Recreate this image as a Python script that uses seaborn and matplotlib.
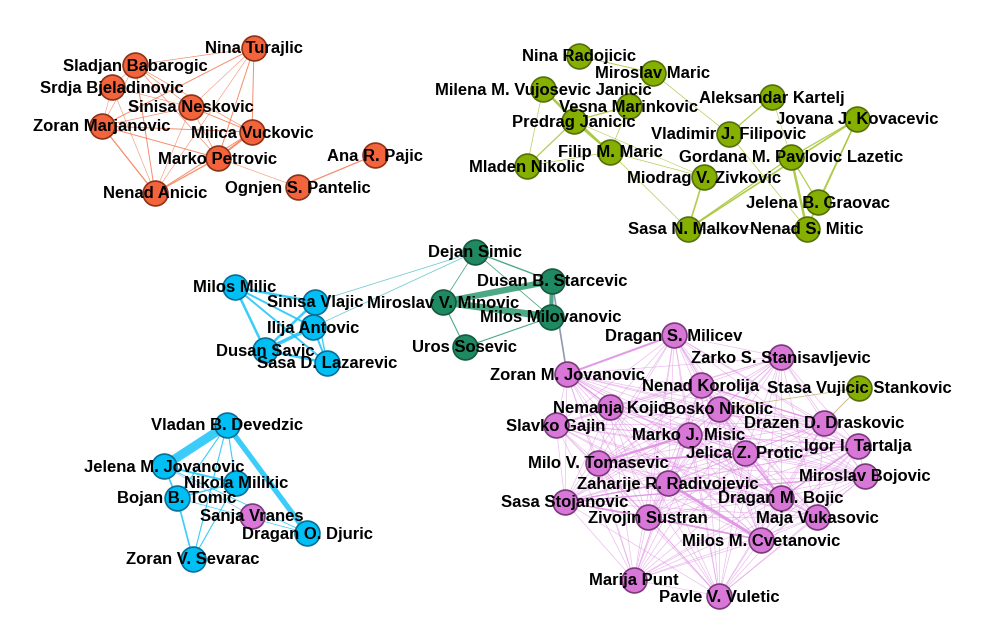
import itertools
import matplotlib
matplotlib.use('Agg')
import matplotlib.pyplot as plt
import seaborn as sns
import pandas as pd

sns.set_theme(style="white")
plt.rcParams['font.family'] = ['Liberation Sans', 'DejaVu Sans']

# --- nodes (positions, pixel coords) ---
orange_names = ["Nina Turajlic", "Sladjan Babarogic", "Srdja Bjeladinovic", "Sinisa Neskovic",
                "Zoran Marjanovic", "Milica Vuckovic", "Marko Petrovic", "Nenad Anicic",
                "Ognjen S. Pantelic", "Ana R. Pajic"]
orange_x = [254, 135, 112, 191, 102, 252, 218, 155, 298, 375]
orange_y = [48, 65, 87, 107, 126, 132, 158, 193, 187, 155]

lime_names = ["Nina Radojicic", "Miroslav Maric", "Milena M. Vujosevic Janicic", "Vesna Marinkovic",
              "Predrag Janicic", "Aleksandar Kartelj", "Jovana J. Kovacevic", "Vladimir J. Filipovic",
              "Filip M. Maric", "Mladen Nikolic", "Gordana M. Pavlovic Lazetic", "Miodrag V. Zivkovic",
              "Jelena B. Graovac", "Sasa N. Malkov", "Nenad S. Mitic", "Stasa Vujicic Stankovic"]
lime_x = [579, 653, 543, 629, 574, 772, 857, 729, 610, 527, 791, 704, 818, 688, 807, 859]
lime_y = [56, 73, 89, 106, 121, 97, 119, 134, 152, 166, 157, 177, 202, 229, 229, 388]

teal_names = ["Dejan Simic", "Dusan B. Starcevic", "Miroslav V. Minovic", "Milos Milovanovic",
              "Uros Sosevic"]
teal_x = [475, 552, 443, 551, 465]
teal_y = [252, 281, 302, 317, 347]

cyan_names = ["Milos Milic", "Sinisa Vlajic", "Ilija Antovic", "Dusan Savic", "Sasa D. Lazarevic",
              "Vladan B. Devedzic", "Jelena M. Jovanovic", "Nikola Milikic", "Bojan B. Tomic",
              "Dragan O. Djuric", "Zoran V. Sevarac"]
cyan_x = [235, 315, 313, 265, 327, 227, 164, 236, 177, 307, 193]
cyan_y = [287, 302, 327, 350, 363, 425, 466, 483, 498, 533, 559]

purple_names = ["Dragan S. Milicev", "Zarko S. Stanisavljevic", "Zoran M. Jovanovic", "Nenad Korolija",
                "Nemanja Kojic", "Bosko Nikolic", "Slavko Gajin", "Drazen D. Draskovic",
                "Marko J. Misic", "Igor I. Tartalja", "Jelica Z. Protic", "Milo V. Tomasevic",
                "Miroslav Bojovic", "Zaharije R. Radivojevic", "Sasa Stojanovic", "Dragan M. Bojic",
                "Zivojin Sustran", "Maja Vukasovic", "Milos M. Cvetanovic", "Marija Punt",
                "Pavle V. Vuletic", "Sanja Vranes"]
purple_x = [674, 781, 567, 701, 610, 719, 556, 824, 689, 858, 745, 598, 865, 668, 565, 781,
            648, 817, 761, 634, 719, 252]
purple_y = [335, 357, 374, 385, 407, 409, 425, 423, 435, 446, 453, 463, 476, 483, 502, 498,
            517, 517, 540, 580, 596, 516]

# --- links (a, b, weight) ---
orange_links = [
    ("Nina Turajlic", "Sladjan Babarogic", 0.5), ("Nina Turajlic", "Zoran Marjanovic", 0.7),
    ("Nina Turajlic", "Sinisa Neskovic", 0.4), ("Nina Turajlic", "Milica Vuckovic", 0.7),
    ("Nina Turajlic", "Marko Petrovic", 0.7), ("Nina Turajlic", "Nenad Anicic", 0.4),
    ("Sladjan Babarogic", "Srdja Bjeladinovic", 0.4), ("Sladjan Babarogic", "Sinisa Neskovic", 0.5),
    ("Sladjan Babarogic", "Milica Vuckovic", 0.5), ("Sladjan Babarogic", "Marko Petrovic", 0.5),
    ("Sladjan Babarogic", "Nenad Anicic", 0.7), ("Sladjan Babarogic", "Zoran Marjanovic", 0.4),
    ("Srdja Bjeladinovic", "Zoran Marjanovic", 0.4), ("Srdja Bjeladinovic", "Nenad Anicic", 0.4),
    ("Srdja Bjeladinovic", "Sinisa Neskovic", 0.4),
    ("Zoran Marjanovic", "Sinisa Neskovic", 0.5), ("Zoran Marjanovic", "Milica Vuckovic", 0.7),
    ("Zoran Marjanovic", "Marko Petrovic", 0.7), ("Zoran Marjanovic", "Nenad Anicic", 0.9),
    ("Sinisa Neskovic", "Milica Vuckovic", 0.7), ("Sinisa Neskovic", "Marko Petrovic", 0.5),
    ("Sinisa Neskovic", "Nenad Anicic", 0.4),
    ("Milica Vuckovic", "Marko Petrovic", 1.4), ("Milica Vuckovic", "Nenad Anicic", 0.7),
    ("Marko Petrovic", "Nenad Anicic", 0.9), ("Marko Petrovic", "Ognjen S. Pantelic", 0.4),
    ("Ognjen S. Pantelic", "Ana R. Pajic", 0.9),
]

lime_links = [
    ("Nina Radojicic", "Miroslav Maric", 0.7), ("Milena M. Vujosevic Janicic", "Predrag Janicic", 1.2),
    ("Milena M. Vujosevic Janicic", "Mladen Nikolic", 0.5), ("Milena M. Vujosevic Janicic", "Filip M. Maric", 1.2),
    ("Predrag Janicic", "Vesna Marinkovic", 0.9), ("Predrag Janicic", "Mladen Nikolic", 0.9),
    ("Predrag Janicic", "Filip M. Maric", 1.6), ("Predrag Janicic", "Miodrag V. Zivkovic", 0.4),
    ("Vesna Marinkovic", "Filip M. Maric", 0.5), ("Vesna Marinkovic", "Miroslav Maric", 0.4),
    ("Mladen Nikolic", "Filip M. Maric", 0.5),
    ("Miroslav Maric", "Vladimir J. Filipovic", 0.5), ("Filip M. Maric", "Miodrag V. Zivkovic", 0.5),
    ("Filip M. Maric", "Sasa N. Malkov", 0.5),
    ("Aleksandar Kartelj", "Vladimir J. Filipovic", 0.9), ("Aleksandar Kartelj", "Gordana M. Pavlovic Lazetic", 0.4),
    ("Vladimir J. Filipovic", "Nenad S. Mitic", 0.5),
    ("Gordana M. Pavlovic Lazetic", "Jovana J. Kovacevic", 0.9), ("Gordana M. Pavlovic Lazetic", "Jelena B. Graovac", 0.9),
    ("Gordana M. Pavlovic Lazetic", "Nenad S. Mitic", 1.8), ("Gordana M. Pavlovic Lazetic", "Sasa N. Malkov", 0.9),
    ("Jovana J. Kovacevic", "Sasa N. Malkov", 1.2), ("Jovana J. Kovacevic", "Jelena B. Graovac", 1.0),
    ("Jovana J. Kovacevic", "Nenad S. Mitic", 0.7),
    ("Miodrag V. Zivkovic", "Sasa N. Malkov", 1.2), ("Sasa N. Malkov", "Nenad S. Mitic", 0.7),
    ("Jelena B. Graovac", "Nenad S. Mitic", 0.9),
]

teal_links = [
    ("Dejan Simic", "Dusan B. Starcevic", 1.0), ("Dejan Simic", "Miroslav V. Minovic", 0.6),
    ("Dejan Simic", "Milos Milovanovic", 0.6), ("Miroslav V. Minovic", "Dusan B. Starcevic", 4.5),
    ("Miroslav V. Minovic", "Milos Milovanovic", 5.0), ("Dusan B. Starcevic", "Milos Milovanovic", 3.0),
    ("Miroslav V. Minovic", "Uros Sosevic", 0.8), ("Uros Sosevic", "Milos Milovanovic", 0.8),
]

cyan_links = [
    ("Milos Milic", "Sinisa Vlajic", 1.8), ("Milos Milic", "Ilija Antovic", 1.4),
    ("Milos Milic", "Dusan Savic", 1.8), ("Milos Milic", "Sasa D. Lazarevic", 1.4),
    ("Sinisa Vlajic", "Dusan Savic", 1.8), ("Sinisa Vlajic", "Ilija Antovic", 1.4),
    ("Sinisa Vlajic", "Sasa D. Lazarevic", 1.0), ("Ilija Antovic", "Dusan Savic", 2.6),
    ("Ilija Antovic", "Sasa D. Lazarevic", 1.4), ("Dusan Savic", "Sasa D. Lazarevic", 1.8),
    ("Vladan B. Devedzic", "Jelena M. Jovanovic", 6.5), ("Vladan B. Devedzic", "Dragan O. Djuric", 3.8),
    ("Vladan B. Devedzic", "Nikola Milikic", 0.8), ("Vladan B. Devedzic", "Bojan B. Tomic", 0.8),
    ("Vladan B. Devedzic", "Zoran V. Sevarac", 0.8),
    ("Jelena M. Jovanovic", "Nikola Milikic", 1.4), ("Jelena M. Jovanovic", "Bojan B. Tomic", 1.2),
    ("Jelena M. Jovanovic", "Dragan O. Djuric", 0.6), ("Bojan B. Tomic", "Nikola Milikic", 1.0),
    ("Bojan B. Tomic", "Zoran V. Sevarac", 1.2), ("Nikola Milikic", "Zoran V. Sevarac", 0.8),
    ("Bojan B. Tomic", "Dragan O. Djuric", 0.5),
]

# heavier purple links; the rest of the group is meshed with thin lines
purple_strong = [
    ("Dragan S. Milicev", "Zoran M. Jovanovic", 1.5), ("Milo V. Tomasevic", "Marko J. Misic", 1.8),
    ("Zaharije R. Radivojevic", "Milos M. Cvetanovic", 2.2), ("Milo V. Tomasevic", "Jelica Z. Protic", 1.2),
    ("Jelica Z. Protic", "Dragan M. Bojic", 1.2), ("Dragan M. Bojic", "Igor I. Tartalja", 1.0),
    ("Sasa Stojanovic", "Zivojin Sustran", 1.2), ("Zivojin Sustran", "Milos M. Cvetanovic", 1.2),
    ("Nenad Korolija", "Drazen D. Draskovic", 1.0), ("Jelica Z. Protic", "Igor I. Tartalja", 1.2),
    ("Zoran M. Jovanovic", "Nemanja Kojic", 0.9), ("Sasa Stojanovic", "Miroslav Bojovic", 0.9),
    ("Sasa Stojanovic", "Zaharije R. Radivojevic", 0.9), ("Milo V. Tomasevic", "Igor I. Tartalja", 0.9),
]
purple_mesh = [n for n in purple_names if n != "Sanja Vranes"]

bridge_links = [
    ("Dejan Simic", "Sinisa Vlajic", 0.6, "#5cc4cc"), ("Dejan Simic", "Ilija Antovic", 0.6, "#5cc4cc"),
    ("Dusan B. Starcevic", "Zoran M. Jovanovic", 1.2, "#7d8aa6"),
    ("Stasa Vujicic Stankovic", "Drazen D. Draskovic", 0.7, "#c4b070"),
    ("Stasa Vujicic Stankovic", "Bosko Nikolic", 0.6, "#c4b070"),
    ("Jelena M. Jovanovic", "Sanja Vranes", 0.6, "#a0b8f0"),
]

fills = {"orange": "#f4643c", "lime": "#86b000", "teal": "#1f8a62",
         "cyan": "#00bff5", "purple": "#d877d8"}
rims = {"orange": "#8a3418", "lime": "#55700a", "teal": "#145a3e",
        "cyan": "#0a6e96", "purple": "#7c3a7c"}
link_colours = {"orange": "#f47850", "lime": "#a4c430", "teal": "#2e9a70",
                "cyan": "#18c4f8", "purple": "#e090e4"}

groups = [("orange", orange_names, orange_x, orange_y),
          ("lime", lime_names, lime_x, lime_y),
          ("teal", teal_names, teal_x, teal_y),
          ("cyan", cyan_names, cyan_x, cyan_y),
          ("purple", purple_names, purple_x, purple_y)]
nodes = pd.concat([pd.DataFrame({"name": n, "x": x, "y": y, "group": g}) for g, n, x, y in groups],
                  ignore_index=True)
pos = {r.name: (r.x, r.y) for r in nodes.itertuples()}

fig = plt.figure(figsize=(9.91, 6.32), dpi=100)
ax = fig.add_axes([0, 0, 1, 1])


def draw_link(a, b, w, colour, alpha=0.85):
    (x0, y0), (x1, y1) = pos[a], pos[b]
    ax.plot([x0, x1], [y0, y1], color=colour, lw=w, alpha=alpha, zorder=1,
            solid_capstyle='round')


for a, b in itertools.combinations(purple_mesh, 2):
    draw_link(a, b, 0.5, link_colours["purple"], alpha=0.6)

for key, links in [("orange", orange_links), ("lime", lime_links), ("teal", teal_links),
                   ("cyan", cyan_links), ("purple", purple_strong)]:
    for a, b, w in links:
        draw_link(a, b, w, link_colours[key])

for a, b, w, c in bridge_links:
    draw_link(a, b, w, c)

for g in fills:
    sub = nodes[nodes.group == g]
    sns.scatterplot(data=sub, x="x", y="y", s=320, color=fills[g], edgecolor=rims[g],
                    linewidth=1.2, ax=ax, zorder=3, legend=False)

for r in nodes.itertuples():
    ax.text(r.x, r.y + 1, r.name, ha='center', va='center', fontsize=12,
            fontweight='bold', color='black', zorder=4)

ax.set_xlim(0, 991)
ax.set_ylim(632, 0)
ax.set_axis_off()
fig.savefig("out.png", dpi=100, facecolor='white')
